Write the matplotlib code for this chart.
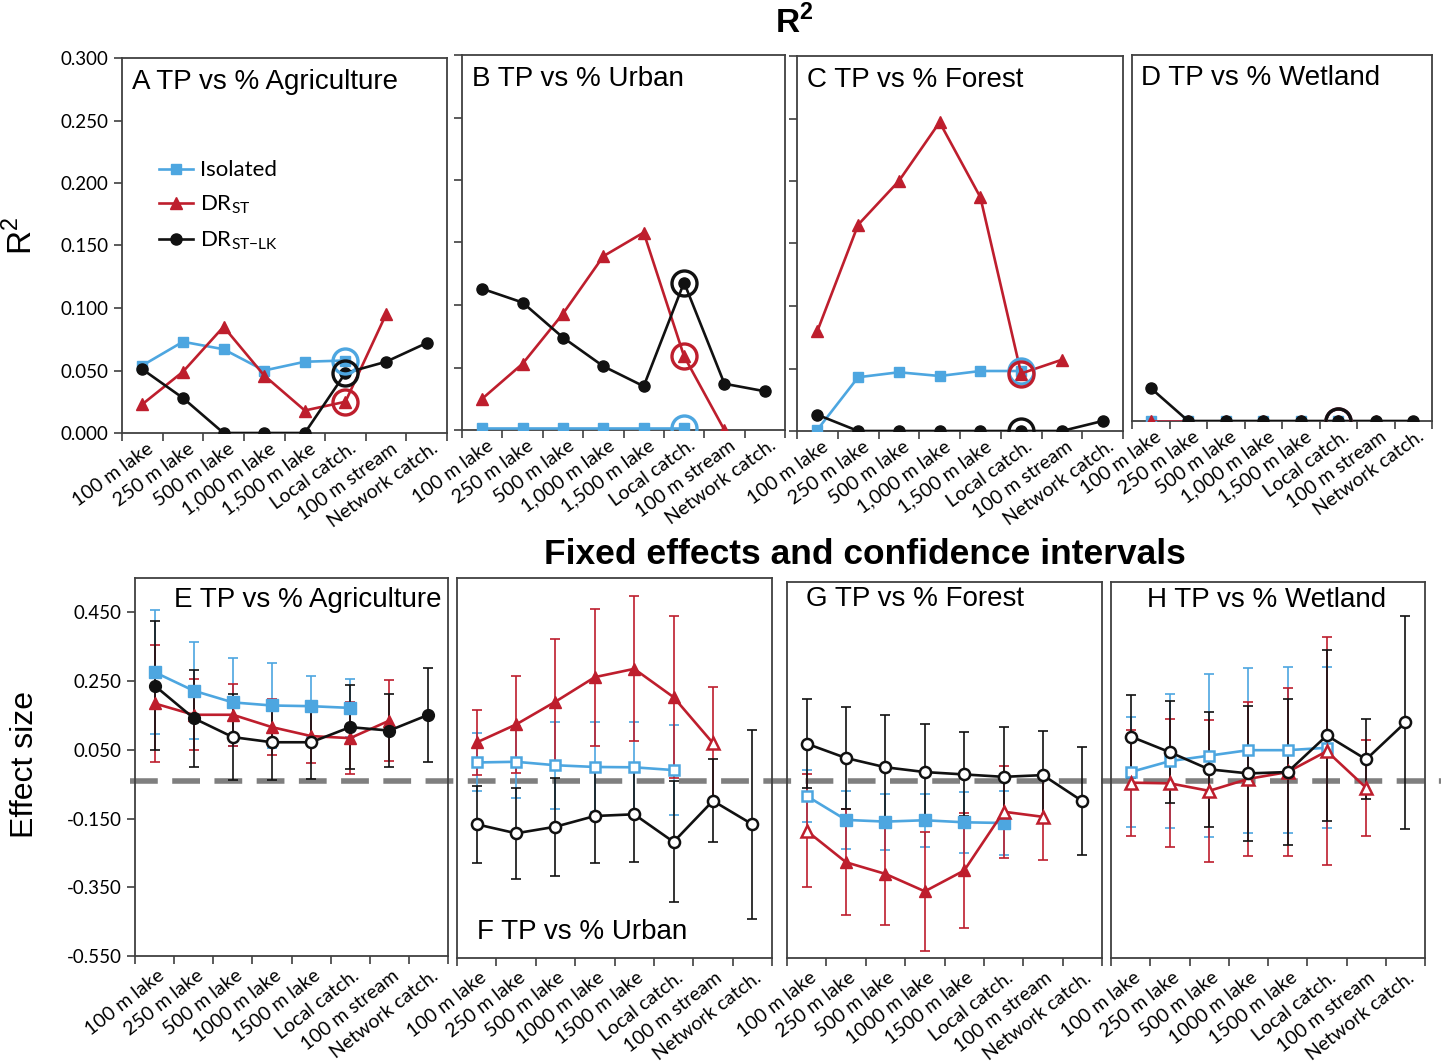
import numpy as np
import matplotlib
matplotlib.use("Agg")
import matplotlib.pyplot as plt
from matplotlib.lines import Line2D
from matplotlib.transforms import ScaledTranslation

W, H = 1455, 1061
nan = np.nan

cats_top = ["100 m lake", "250 m lake", "500 m lake", "1,000 m lake", "1,500 m lake",
            "Local catch.", "100 m stream", "Network catch."]
cats_bot = ["100 m lake", "250 m lake", "500 m lake", "1000 m lake", "1500 m lake",
            "Local catch.", "100 m stream", "Network catch."]

# R2 (panels A-D)
r2_iso = {"A": [0.054, 0.073, 0.067, 0.050, 0.057, 0.058, nan, nan],
          "B": [0.002, 0.002, 0.002, 0.002, 0.002, 0.002, nan, nan],
          "C": [0.001, 0.043, 0.047, 0.044, 0.048, 0.048, nan, nan],
          "D": [0.0, 0.0, 0.0, 0.0, 0.0, 0.0, nan, nan]}
r2_st = {"A": [0.023, 0.049, 0.085, 0.046, 0.018, 0.025, 0.095, nan],
         "B": [0.025, 0.053, 0.093, 0.139, 0.158, 0.059, 0.0, nan],
         "C": [0.080, 0.165, 0.200, 0.247, 0.187, 0.046, 0.057, nan],
         "D": [0.0, 0.0, 0.0, 0.0, 0.0, 0.0, 0.0, nan]}
r2_stlk = {"A": [0.051, 0.028, 0.0, 0.0, 0.0, 0.048, 0.057, 0.072],
           "B": [0.113, 0.102, 0.074, 0.051, 0.035, 0.118, 0.037, 0.031],
           "C": [0.013, 0.0, 0.0, 0.0, 0.0, 0.0, 0.0, 0.008],
           "D": [0.027, 0.0, 0.0, 0.0, 0.0, 0.0, 0.0, 0.0]}
highlight_idx = 5  # local catch. circled

# fixed effects (panels E-H): estimate, CI half width, open marker = not significant
fe_iso = {"E": [0.276, 0.222, 0.188, 0.179, 0.177, 0.172, nan, nan],
          "F": [0.016, 0.018, 0.008, 0.003, 0.002, -0.006, nan, nan],
          "G": [-0.076, -0.146, -0.151, -0.147, -0.153, -0.155, nan, nan],
          "H": [-0.006, 0.026, 0.042, 0.058, 0.058, 0.065, nan, nan]}
ci_iso = {"E": [0.180, 0.141, 0.128, 0.124, 0.089, 0.084, nan, nan],
          "F": [0.084, 0.104, 0.126, 0.129, 0.130, 0.130, nan, nan],
          "G": [0.076, 0.086, 0.082, 0.078, 0.090, 0.095, nan, nan],
          "H": [0.161, 0.197, 0.238, 0.241, 0.242, 0.235, nan, nan]}
open_iso = {"E": [0, 0, 0, 0, 0, 0, 0, 0],
            "F": [1, 1, 1, 1, 1, 1, 0, 0],
            "G": [1, 0, 0, 0, 0, 0, 0, 0],
            "H": [1, 1, 1, 1, 1, 1, 0, 0]}

fe_st = {"E": [0.185, 0.152, 0.152, 0.116, 0.090, 0.084, 0.135, nan],
         "F": [0.074, 0.126, 0.192, 0.263, 0.287, 0.205, 0.072, nan],
         "G": [-0.178, -0.270, -0.304, -0.355, -0.294, -0.122, -0.137, nan],
         "H": [-0.037, -0.039, -0.061, -0.026, -0.006, 0.055, -0.052, nan]}
ci_st = {"E": [0.170, 0.103, 0.090, 0.082, 0.079, 0.105, 0.117, nan],
         "F": [0.095, 0.140, 0.180, 0.198, 0.210, 0.235, 0.162, nan],
         "G": [0.165, 0.155, 0.148, 0.175, 0.167, 0.135, 0.126, nan],
         "H": [0.155, 0.187, 0.208, 0.225, 0.246, 0.333, 0.140, nan]}
open_st = {"E": [0, 0, 0, 0, 0, 0, 0, 0],
           "F": [0, 0, 0, 0, 0, 0, 1, 0],
           "G": [1, 0, 0, 0, 0, 1, 1, 0],
           "H": [1, 1, 1, 1, 1, 1, 1, 0]}

fe_stlk = {"E": [0.237, 0.142, 0.087, 0.072, 0.072, 0.116, 0.106, 0.152],
           "F": [-0.163, -0.189, -0.170, -0.139, -0.134, -0.214, -0.095, -0.163],
           "G": [0.077, 0.035, 0.008, -0.006, -0.013, -0.020, -0.015, -0.091],
           "H": [0.098, 0.052, 0.002, -0.010, -0.006, 0.101, 0.031, 0.139]}
ci_stlk = {"E": [0.187, 0.141, 0.124, 0.110, 0.106, 0.122, 0.106, 0.137],
           "F": [0.112, 0.132, 0.142, 0.136, 0.139, 0.175, 0.120, 0.273],
           "G": [0.130, 0.150, 0.152, 0.141, 0.123, 0.146, 0.130, 0.157],
           "H": [0.122, 0.150, 0.168, 0.198, 0.213, 0.250, 0.117, 0.311]}
open_stlk = {"E": [0, 0, 1, 1, 1, 0, 0, 0],
             "F": [1, 1, 1, 1, 1, 1, 1, 1],
             "G": [1, 1, 1, 1, 1, 1, 1, 1],
             "H": [1, 1, 1, 1, 1, 1, 1, 1]}
ref_line = -0.04

titles_top = {"A": "A TP vs % Agriculture", "B": "B TP vs % Urban",
              "C": "C TP vs % Forest", "D": "D TP vs % Wetland"}
titles_bot = {"E": "E TP vs % Agriculture", "F": "F TP vs % Urban",
              "G": "G TP vs % Forest", "H": "H TP vs % Wetland"}

BLUE = "#4DA6E0"
RED = "#BE1E2D"
BLACK = "#111111"
SPINE = "#404040"
TICKFONT = "Lato"
TITLEFONT = "Liberation Sans"

plt.rcParams["axes.unicode_minus"] = False
plt.rcParams["mathtext.fontset"] = "custom"
plt.rcParams["mathtext.rm"] = TICKFONT

fig = plt.figure(figsize=(W / 100, H / 100), dpi=100)


def add_ax(l, t, r, b):
    return fig.add_axes([l / W, 1 - b / H, (r - l) / W, (b - t) / H])


def style(ax, labels, rot, dx, pad, ylabels=None, yticks=None, left_ticks=True):
    ax.set_facecolor("none")
    for s in ax.spines.values():
        s.set_color(SPINE)
        s.set_linewidth(1.3)
    ax.set_xlim(0.5, 8.5)
    ax.set_xticks(np.arange(1, 9))
    ax.set_xticks(np.arange(0.5, 9.0, 1.0), minor=True)
    ax.tick_params(axis="x", which="major", length=0, pad=pad)
    ax.tick_params(axis="x", which="minor", length=6, width=1.2, color=SPINE, direction="out")
    ax.set_xticklabels(labels, rotation=rot, ha="right", rotation_mode="anchor",
                       fontsize=14, family=TICKFONT)
    off = ScaledTranslation(dx / 100, 0, fig.dpi_scale_trans)
    for lab in ax.get_xticklabels():
        lab.set_transform(lab.get_transform() + off)
    if yticks is not None:
        ax.set_yticks(yticks)
        if ylabels is not None:
            ax.set_yticklabels(ylabels, fontsize=13.5, family=TICKFONT)
        else:
            ax.set_yticklabels([])
        ax.tick_params(axis="y", length=6 if left_ticks else 0, width=1.2, color=SPINE)
    else:
        ax.set_yticks([])


def draw(ax, y, color, marker, ms, opn=None, err=None, z=3):
    x = np.arange(1, 9)
    y = np.asarray(y, float)
    if err is not None:
        ax.errorbar(x, y, yerr=np.asarray(err, float), fmt="none", ecolor=color,
                    elinewidth=1.2, capsize=3.5, capthick=1.2, zorder=2)
    ax.plot(x, y, "-", color=color, lw=1.9, zorder=z)
    o = np.zeros(8, bool) if opn is None else np.asarray(opn, bool)
    ax.plot(x[~o], y[~o], ls="none", marker=marker, ms=ms, mfc=color, mec=color, zorder=z + 0.1)
    ax.plot(x[o], y[o], ls="none", marker=marker, ms=ms - 0.5, mfc="white", mec=color,
            mew=1.8, zorder=z + 0.1)


# ---- top row: R2 ----
top_boxes = {"A": (122, 58, 447, 433), "B": (462, 55, 785, 430),
             "C": (797, 56, 1123, 431), "D": (1132, 55, 1432, 421)}
r2_ticks = np.arange(0, 0.301, 0.05)
for k, box in top_boxes.items():
    ax = add_ax(*box)
    ax.set_ylim(0, 0.3)
    style(ax, cats_top, 36, 4, 5,
          ylabels=["%.3f" % v for v in r2_ticks] if k == "A" else None,
          yticks=r2_ticks, left_ticks=(k != "D"))
    draw(ax, r2_iso[k], BLUE, "s", 7.5, z=3)
    draw(ax, r2_st[k], RED, "^", 8.5, z=4)
    draw(ax, r2_stlk[k], BLACK, "o", 8, z=5)
    for vals, col, z in [(r2_iso, BLUE, 6), (r2_st, RED, 6.1), (r2_stlk, BLACK, 6.2)]:
        ax.plot([highlight_idx + 1], [vals[k][highlight_idx]], ls="none", marker="o",
                ms=18, mfc="none", mec=col, mew=2.4, zorder=z)
    ax.text(0.03, 0.936, titles_top[k], transform=ax.transAxes, fontsize=20,
            family=TITLEFONT, va="center", ha="left")
    if k == "A":
        handles = [Line2D([], [], color=BLUE, lw=1.9, marker="s", ms=7.5),
                   Line2D([], [], color=RED, lw=1.9, marker="^", ms=8.5),
                   Line2D([], [], color=BLACK, lw=1.9, marker="o", ms=8)]
        ax.legend(handles, ["Isolated", r"DR$_{\mathregular{ST}}$",
                            r"DR$_{\mathregular{ST{-}LK}}$"],
                  loc="upper left", bbox_to_anchor=(0.115, 0.727), frameon=False,
                  borderpad=0, borderaxespad=0, handlelength=1.5, handletextpad=0.35,
                  labelspacing=0.6, prop={"family": TICKFONT, "size": 16})

# ---- bottom row: fixed effects ----
bot_boxes = {"E": (135, 578, 448, 956), "F": (457, 578, 772, 958),
             "G": (787, 582, 1102, 958), "H": (1111, 582, 1425, 958)}
fe_ticks = np.arange(-0.55, 0.451, 0.2)
axes_bot = {}
for k, box in bot_boxes.items():
    ax = add_ax(*box)
    axes_bot[k] = ax
    ax.set_ylim(-0.55, 0.55)
    style(ax, cats_bot, 38, 2, 8,
          ylabels=["%.3f" % v for v in fe_ticks] if k == "E" else None,
          yticks=fe_ticks if k == "E" else None)
    draw(ax, fe_iso[k], BLUE, "s", 8, opn=open_iso[k], err=ci_iso[k], z=3)
    draw(ax, fe_st[k], RED, "^", 9, opn=open_st[k], err=ci_st[k], z=4)
    draw(ax, fe_stlk[k], BLACK, "o", 8.5, opn=open_stlk[k], err=ci_stlk[k], z=5)

axes_bot["E"].text(0.978, 0.942, titles_bot["E"], transform=axes_bot["E"].transAxes,
                   fontsize=20, family=TITLEFONT, ha="right", va="center")
axes_bot["F"].text(0.063, 0.068, titles_bot["F"], transform=axes_bot["F"].transAxes,
                   fontsize=20, family=TITLEFONT, ha="left", va="center")
axes_bot["G"].text(0.06, 0.955, titles_bot["G"], transform=axes_bot["G"].transAxes,
                   fontsize=20, family=TITLEFONT, ha="left", va="center")
axes_bot["H"].text(0.497, 0.952, titles_bot["H"], transform=axes_bot["H"].transAxes,
                   fontsize=20, family=TITLEFONT, ha="center", va="center")

# dashed reference line running across all four bottom panels
inv = fig.transFigure.inverted()
yl = inv.transform(axes_bot["E"].transData.transform((1, ref_line)))[1]
x0 = inv.transform(axes_bot["E"].transAxes.transform((-0.016, 0)))[0]
x1 = inv.transform(axes_bot["H"].transAxes.transform((1.05, 0)))[0]
fig.add_artist(Line2D([x0, x1], [yl, yl], transform=fig.transFigure, color="#7F7F7F",
                      lw=4, ls=(0, (5, 2.6)), zorder=-1))

fig.text(794 / W, 1 - 23 / H, r"R$^{\mathregular{2}}$", fontsize=24, fontweight="bold",
         family=TITLEFONT, ha="center", va="center")
fig.text(865 / W, 1 - 555 / H, "Fixed effects and confidence intervals", fontsize=25.5,
         fontweight="bold", family=TITLEFONT, ha="center", va="center")
fig.text(22 / W, 1 - 236 / H, r"R$^{\mathregular{2}}$", fontsize=24, family=TITLEFONT,
         rotation=90, ha="center", va="center")
fig.text(25 / W, 1 - 765 / H, "Effect size", fontsize=23, family=TITLEFONT, rotation=90,
         ha="center", va="center")

fig.savefig("out.png", dpi=100, facecolor="white")
